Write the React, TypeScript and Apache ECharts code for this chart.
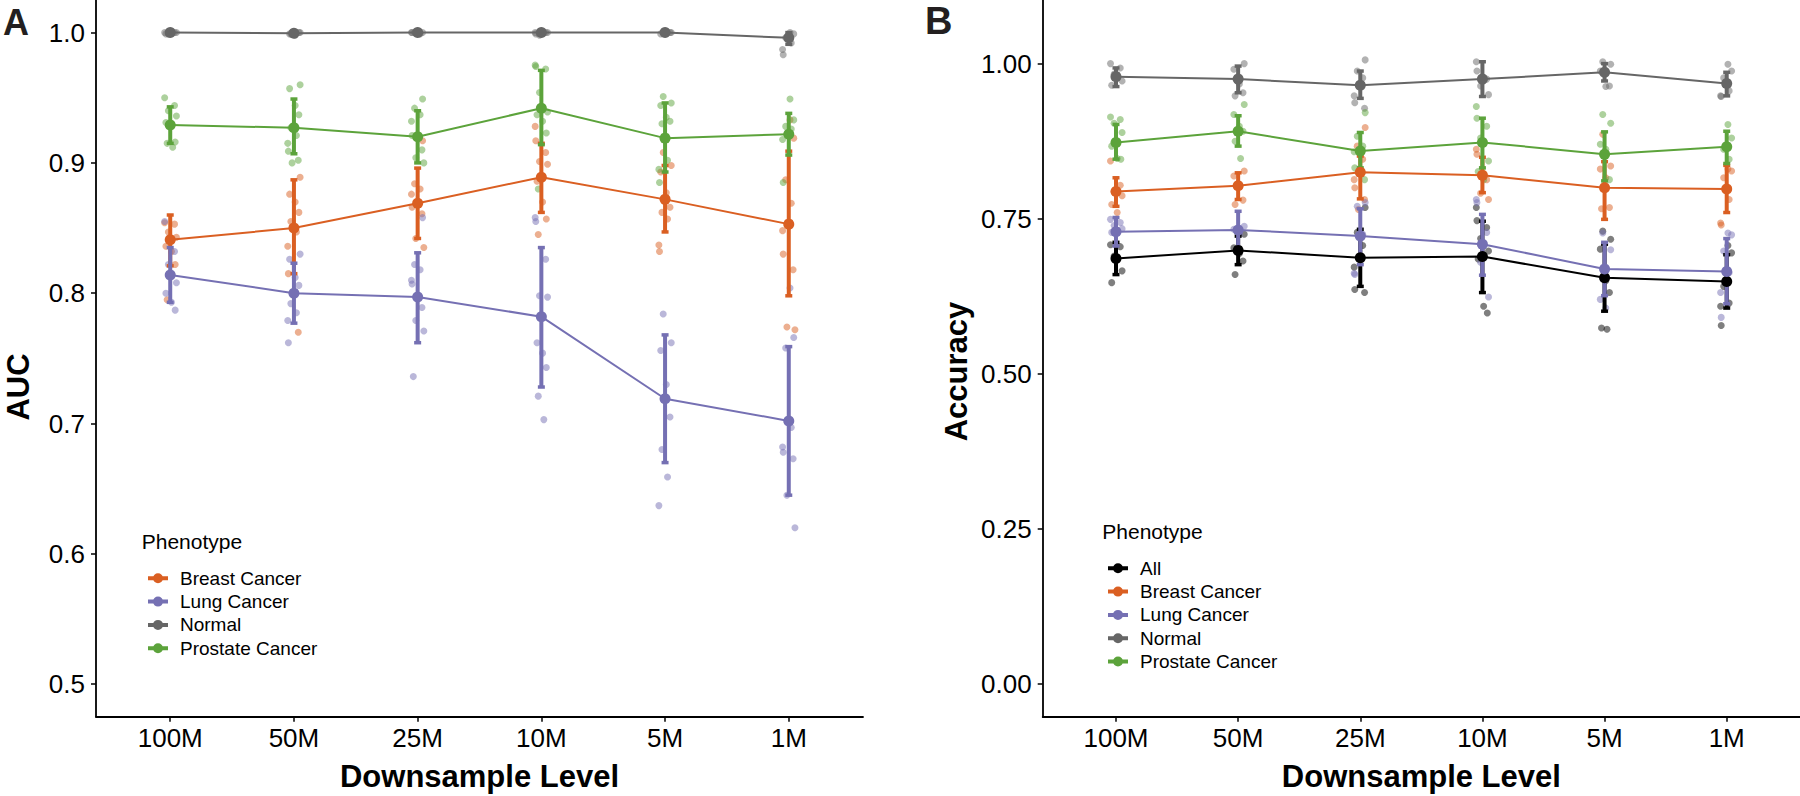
import React, { useEffect, useRef } from 'react';
import * as echarts from 'echarts';

const FONT = '"Liberation Sans", Arial, Helvetica, sans-serif';

const CATS = ['100M', '50M', '25M', '10M', '5M', '1M'];
const AUC_TICKS = [0.5, 0.6, 0.7, 0.8, 0.9, 1.0];
const ACC_TICKS = [0, 0.25, 0.5, 0.75, 1.0];
const JITTER = [-0.045, 0.035, -0.015, 0.05, -0.035, 0.01, 0.04, -0.025, 0.02, -0.05];

const COLOR_ALL = '#000000';
const COLOR_BREAST = '#DA5F22';
const COLOR_LUNG = '#7570B3';
const COLOR_NORMAL = '#666666';
const COLOR_PROSTATE = '#5CA33B';

// ---------- Panel A: AUC ----------
const aucBreastMean = [0.841, 0.850, 0.869, 0.889, 0.872, 0.853];
const aucBreastLo = [0.821, 0.815, 0.842, 0.862, 0.847, 0.798];
const aucBreastHi = [0.860, 0.887, 0.896, 0.915, 0.898, 0.909];
const aucBreastPts = [
  [0.854, 0.853, 0.847, 0.843, 0.836, 0.832, 0.822, 0.795],
  [0.889, 0.876, 0.870, 0.862, 0.855, 0.847, 0.836, 0.815, 0.770],
  [0.917, 0.884, 0.880, 0.876, 0.866, 0.861, 0.842, 0.835],
  [0.928, 0.917, 0.908, 0.901, 0.899, 0.886, 0.870, 0.857, 0.845],
  [0.908, 0.898, 0.893, 0.877, 0.866, 0.862, 0.857, 0.837, 0.832],
  [0.933, 0.919, 0.887, 0.869, 0.848, 0.830, 0.818, 0.774, 0.772],
];

const aucLungMean = [0.814, 0.800, 0.797, 0.782, 0.719, 0.702];
const aucLungLo = [0.793, 0.777, 0.762, 0.728, 0.670, 0.645];
const aucLungHi = [0.835, 0.823, 0.831, 0.835, 0.768, 0.759];
const aucLungPts = [
  [0.855, 0.832, 0.822, 0.808, 0.800, 0.793, 0.787],
  [0.830, 0.826, 0.812, 0.806, 0.792, 0.785, 0.779, 0.762],
  [0.858, 0.822, 0.818, 0.810, 0.807, 0.789, 0.779, 0.771, 0.736],
  [0.858, 0.855, 0.826, 0.798, 0.797, 0.762, 0.754, 0.743, 0.721, 0.703],
  [0.784, 0.762, 0.756, 0.730, 0.705, 0.680, 0.659, 0.637],
  [0.804, 0.766, 0.758, 0.697, 0.682, 0.678, 0.673, 0.645, 0.620],
];

const aucNormalMean = [1.0, 0.9995, 1.0, 1.0, 1.0, 0.996];
const aucNormalLo = [0.999, 0.999, 0.999, 0.999, 0.999, 0.991];
const aucNormalHi = [1.0, 1.0, 1.0, 1.0, 1.0, 1.0];
const aucNormalPts = [
  [1.0, 1.0, 0.999, 1.0, 0.999],
  [1.0, 0.999, 0.998, 1.0, 0.999],
  [1.0, 1.0, 0.999, 1.0, 1.0],
  [1.0, 0.999, 1.0, 0.998, 1.0],
  [1.0, 1.0, 0.999, 1.0, 1.0],
  [1.0, 0.999, 0.996, 0.992, 0.987, 0.983],
];

const aucProstateMean = [0.929, 0.927, 0.920, 0.942, 0.919, 0.922];
const aucProstateLo = [0.915, 0.907, 0.900, 0.914, 0.893, 0.906];
const aucProstateHi = [0.943, 0.949, 0.940, 0.971, 0.946, 0.938];
const aucProstatePts = [
  [0.950, 0.944, 0.940, 0.936, 0.931, 0.929, 0.916, 0.915, 0.912],
  [0.960, 0.957, 0.944, 0.937, 0.927, 0.921, 0.915, 0.909, 0.902, 0.900],
  [0.949, 0.942, 0.937, 0.932, 0.921, 0.910, 0.904, 0.900],
  [0.975, 0.974, 0.972, 0.954, 0.939, 0.937, 0.932, 0.923, 0.880],
  [0.951, 0.946, 0.944, 0.935, 0.932, 0.930, 0.902, 0.895, 0.885],
  [0.949, 0.933, 0.928, 0.926, 0.918, 0.885],
];

// ---------- Panel B: Accuracy ----------
const accAllMean = [0.686, 0.699, 0.687, 0.689, 0.655, 0.649];
const accAllLo = [0.660, 0.676, 0.641, 0.631, 0.601, 0.606];
const accAllHi = [0.712, 0.722, 0.733, 0.746, 0.709, 0.692];
const accAllPts = [
  [0.708, 0.705, 0.690, 0.666, 0.647],
  [0.725, 0.703, 0.694, 0.682, 0.660],
  [0.768, 0.728, 0.707, 0.672, 0.636, 0.631],
  [0.768, 0.747, 0.736, 0.718, 0.698, 0.685, 0.609, 0.598],
  [0.730, 0.717, 0.701, 0.650, 0.631, 0.574, 0.572],
  [0.707, 0.695, 0.641, 0.614, 0.609, 0.578],
];

const accBreastMean = [0.794, 0.803, 0.825, 0.820, 0.800, 0.798];
const accBreastLo = [0.770, 0.781, 0.782, 0.792, 0.749, 0.760];
const accBreastHi = [0.816, 0.824, 0.851, 0.849, 0.842, 0.836];
const accBreastPts = [
  [0.843, 0.804, 0.794, 0.787, 0.773, 0.760],
  [0.827, 0.819, 0.804, 0.780, 0.773],
  [0.897, 0.867, 0.846, 0.813, 0.800, 0.781, 0.765],
  [0.862, 0.854, 0.813, 0.791, 0.781],
  [0.886, 0.835, 0.830, 0.816, 0.768, 0.766],
  [0.830, 0.827, 0.816, 0.781, 0.743, 0.740],
];

const accLungMean = [0.729, 0.732, 0.722, 0.709, 0.669, 0.665];
const accLungLo = [0.706, 0.703, 0.676, 0.659, 0.626, 0.613];
const accLungHi = [0.752, 0.762, 0.766, 0.757, 0.712, 0.718];
const accLungPts = [
  [0.749, 0.744, 0.739, 0.734, 0.728],
  [0.738, 0.733, 0.725],
  [0.776, 0.770, 0.725, 0.662, 0.660],
  [0.781, 0.776, 0.728, 0.680, 0.624],
  [0.727, 0.700, 0.620, 0.606],
  [0.727, 0.724, 0.698, 0.663, 0.631, 0.591],
];

const accNormalMean = [0.979, 0.975, 0.965, 0.975, 0.986, 0.968];
const accNormalLo = [0.963, 0.953, 0.944, 0.947, 0.972, 0.948];
const accNormalHi = [0.993, 0.996, 0.988, 1.003, 1.0, 0.986];
const accNormalPts = [
  [1.0, 0.993, 0.983, 0.972, 0.965],
  [1.0, 0.991, 0.967, 0.953, 0.948],
  [1.006, 0.988, 0.977, 0.948, 0.937, 0.928],
  [1.003, 0.988, 0.975, 0.964, 0.950],
  [1.003, 0.999, 0.988, 0.963, 0.964],
  [0.999, 0.988, 0.977, 0.956, 0.948, 0.947],
];

const accProstateMean = [0.873, 0.891, 0.859, 0.873, 0.854, 0.866];
const accProstateLo = [0.846, 0.867, 0.832, 0.832, 0.811, 0.839];
const accProstateHi = [0.902, 0.916, 0.889, 0.912, 0.890, 0.891];
const accProstatePts = [
  [0.914, 0.910, 0.904, 0.889, 0.867, 0.847, 0.846],
  [0.934, 0.918, 0.899, 0.891, 0.875, 0.847],
  [0.921, 0.883, 0.867, 0.858, 0.832, 0.813],
  [0.931, 0.912, 0.899, 0.880, 0.843, 0.826, 0.813],
  [0.918, 0.904, 0.870, 0.862, 0.813],
  [0.902, 0.880, 0.862, 0.846],
];

type Group = { name: string; color: string; mean: number[]; lo: number[]; hi: number[]; pts: number[][] };

const groupsA: Group[] = [
  { name: 'Breast Cancer', color: COLOR_BREAST, mean: aucBreastMean, lo: aucBreastLo, hi: aucBreastHi, pts: aucBreastPts },
  { name: 'Lung Cancer', color: COLOR_LUNG, mean: aucLungMean, lo: aucLungLo, hi: aucLungHi, pts: aucLungPts },
  { name: 'Normal', color: COLOR_NORMAL, mean: aucNormalMean, lo: aucNormalLo, hi: aucNormalHi, pts: aucNormalPts },
  { name: 'Prostate Cancer', color: COLOR_PROSTATE, mean: aucProstateMean, lo: aucProstateLo, hi: aucProstateHi, pts: aucProstatePts },
];

const groupsB: Group[] = [
  { name: 'All', color: COLOR_ALL, mean: accAllMean, lo: accAllLo, hi: accAllHi, pts: accAllPts },
  { name: 'Breast Cancer', color: COLOR_BREAST, mean: accBreastMean, lo: accBreastLo, hi: accBreastHi, pts: accBreastPts },
  { name: 'Lung Cancer', color: COLOR_LUNG, mean: accLungMean, lo: accLungLo, hi: accLungHi, pts: accLungPts },
  { name: 'Normal', color: COLOR_NORMAL, mean: accNormalMean, lo: accNormalLo, hi: accNormalHi, pts: accNormalPts },
  { name: 'Prostate Cancer', color: COLOR_PROSTATE, mean: accProstateMean, lo: accProstateLo, hi: accProstateHi, pts: accProstatePts },
];

function buildSeries(g: Group, idx: number): any[] {
  const scatterData: number[][] = [];
  g.pts.forEach((arr, c) => {
    arr.forEach((v, i) => {
      scatterData.push([c + JITTER[(i + c * 3) % JITTER.length], v]);
    });
  });
  const color = g.color;
  return [
    {
      type: 'scatter',
      name: g.name + ' (runs)',
      xAxisIndex: idx,
      yAxisIndex: idx,
      data: scatterData,
      symbol: 'circle',
      symbolSize: 7,
      itemStyle: { color, opacity: 0.5 },
      z: 1,
      silent: true,
    },
    {
      type: 'custom',
      name: g.name + ' (sd)',
      xAxisIndex: idx,
      yAxisIndex: idx,
      data: CATS.map((_, c) => [c, g.lo[c], g.hi[c]]),
      encode: { x: 0, y: [1, 2] },
      z: 2,
      silent: true,
      renderItem: (params: any, api: any) => {
        const x = api.value(0);
        const top = api.coord([x, api.value(2)]);
        const bot = api.coord([x, api.value(1)]);
        const cw = 3.5;
        return {
          type: 'group',
          children: [
            { type: 'line', shape: { x1: top[0], y1: top[1], x2: bot[0], y2: bot[1] }, style: { stroke: color, lineWidth: 4 } },
            { type: 'line', shape: { x1: top[0] - cw, y1: top[1], x2: top[0] + cw, y2: top[1] }, style: { stroke: color, lineWidth: 3.5 } },
            { type: 'line', shape: { x1: bot[0] - cw, y1: bot[1], x2: bot[0] + cw, y2: bot[1] }, style: { stroke: color, lineWidth: 3.5 } },
          ],
        };
      },
    },
    {
      type: 'line',
      name: g.name,
      xAxisIndex: idx,
      yAxisIndex: idx,
      data: CATS.map((_, c) => [c, g.mean[c]]),
      symbol: 'circle',
      symbolSize: 11,
      showSymbol: true,
      lineStyle: { width: 2, color },
      itemStyle: { color },
      emphasis: { disabled: true },
      z: 3,
      silent: true,
    },
  ];
}

const LEGEND_ICON = 'path://M0,3H20V7H0Z M5,5A5,5 0 1 1 15,5A5,5 0 1 1 5,5Z';

function xAxisCfg(gridIndex: number) {
  return {
    type: 'value',
    gridIndex,
    min: -0.6,
    max: 5.6,
    splitLine: { show: false },
    axisLine: { show: true, onZero: false, lineStyle: { color: '#000', width: 1.8 } },
    axisTick: { show: true, customValues: [0, 1, 2, 3, 4, 5], length: 5, lineStyle: { color: '#000', width: 1.5 } },
    axisLabel: {
      show: true,
      customValues: [0, 1, 2, 3, 4, 5],
      formatter: (v: number) => CATS[Math.round(v)],
      fontSize: 26,
      color: '#000',
      fontFamily: FONT,
      margin: 8,
    },
    name: 'Downsample Level',
    nameLocation: 'middle',
    nameGap: 44,
    nameTextStyle: { fontSize: 31, fontWeight: 'bold', color: '#000', fontFamily: FONT },
  };
}

function yAxisCfg(gridIndex: number, min: number, max: number, ticks: number[], digits: number) {
  return {
    type: 'value',
    gridIndex,
    min,
    max,
    splitLine: { show: false },
    axisLine: { show: true, onZero: false, lineStyle: { color: '#000', width: 1.8 } },
    axisTick: { show: true, customValues: ticks, length: 5, lineStyle: { color: '#000', width: 1.5 } },
    axisLabel: {
      show: true,
      customValues: ticks,
      formatter: (v: number) => v.toFixed(digits),
      fontSize: 26,
      color: '#000',
      fontFamily: FONT,
      margin: 11,
    },
  };
}

function legendCfg(left: number, top: number, names: string[]) {
  return {
    orient: 'vertical',
    left,
    top,
    itemWidth: 20,
    itemHeight: 10,
    itemGap: 4.3,
    icon: LEGEND_ICON,
    selectedMode: false,
    data: names,
    textStyle: { fontSize: 19, color: '#000', fontFamily: FONT, padding: [0, 0, 0, 7] },
  };
}

export default function App() {
  const ref = useRef<HTMLDivElement>(null);

  useEffect(() => {
    if (!ref.current) return;
    const chart = echarts.init(ref.current, undefined, { renderer: 'svg' });

    const series = [
      ...groupsA.flatMap((g) => buildSeries(g, 0)),
      ...groupsB.flatMap((g) => buildSeries(g, 1)),
    ];

    chart.setOption({
      animation: false,
      backgroundColor: '#ffffff',
      textStyle: { fontFamily: FONT },
      grid: [
        { left: 96, top: 0, width: 767, height: 716.7, containLabel: false, outerBoundsMode: 'none' },
        { left: 1042.7, top: 0, width: 757.3, height: 716.7, containLabel: false, outerBoundsMode: 'none' },
      ],
      xAxis: [xAxisCfg(0), xAxisCfg(1)],
      yAxis: [
        yAxisCfg(0, 0.475, 1.025, AUC_TICKS, 1),
        yAxisCfg(1, -0.0525, 1.1025, ACC_TICKS, 2),
      ],
      legend: [
        legendCfg(143, 563.8, groupsA.map((g) => g.name)),
        legendCfg(1103, 553.8, groupsB.map((g) => g.name)),
      ],
      graphic: [
        { type: 'text', x: 3, y: 22, style: { text: 'A', font: `bold 36px ${FONT}`, fill: '#231f20', textAlign: 'left', textVerticalAlign: 'middle' } },
        { type: 'text', x: 925, y: 21, style: { text: 'B', font: `bold 38px ${FONT}`, fill: '#231f20', textAlign: 'left', textVerticalAlign: 'middle' } },
        { type: 'text', x: 18, y: 387, rotation: Math.PI / 2, style: { text: 'AUC', font: `bold 31px ${FONT}`, fill: '#000', textAlign: 'center', textVerticalAlign: 'middle' } },
        { type: 'text', x: 956, y: 371.5, rotation: Math.PI / 2, style: { text: 'Accuracy', font: `bold 31px ${FONT}`, fill: '#000', textAlign: 'center', textVerticalAlign: 'middle' } },
        { type: 'text', x: 141.7, y: 541, style: { text: 'Phenotype', font: `21px ${FONT}`, fill: '#000', textAlign: 'left', textVerticalAlign: 'middle' } },
        { type: 'text', x: 1102.3, y: 531, style: { text: 'Phenotype', font: `21px ${FONT}`, fill: '#000', textAlign: 'left', textVerticalAlign: 'middle' } },
      ],
      series,
    });

    return () => {
      chart.dispose();
    };
  }, []);

  return (
    <div
      ref={ref}
      style={{ position: 'fixed', left: 0, top: 0, width: 1800, height: 796, background: '#fff' }}
    />
  );
}
